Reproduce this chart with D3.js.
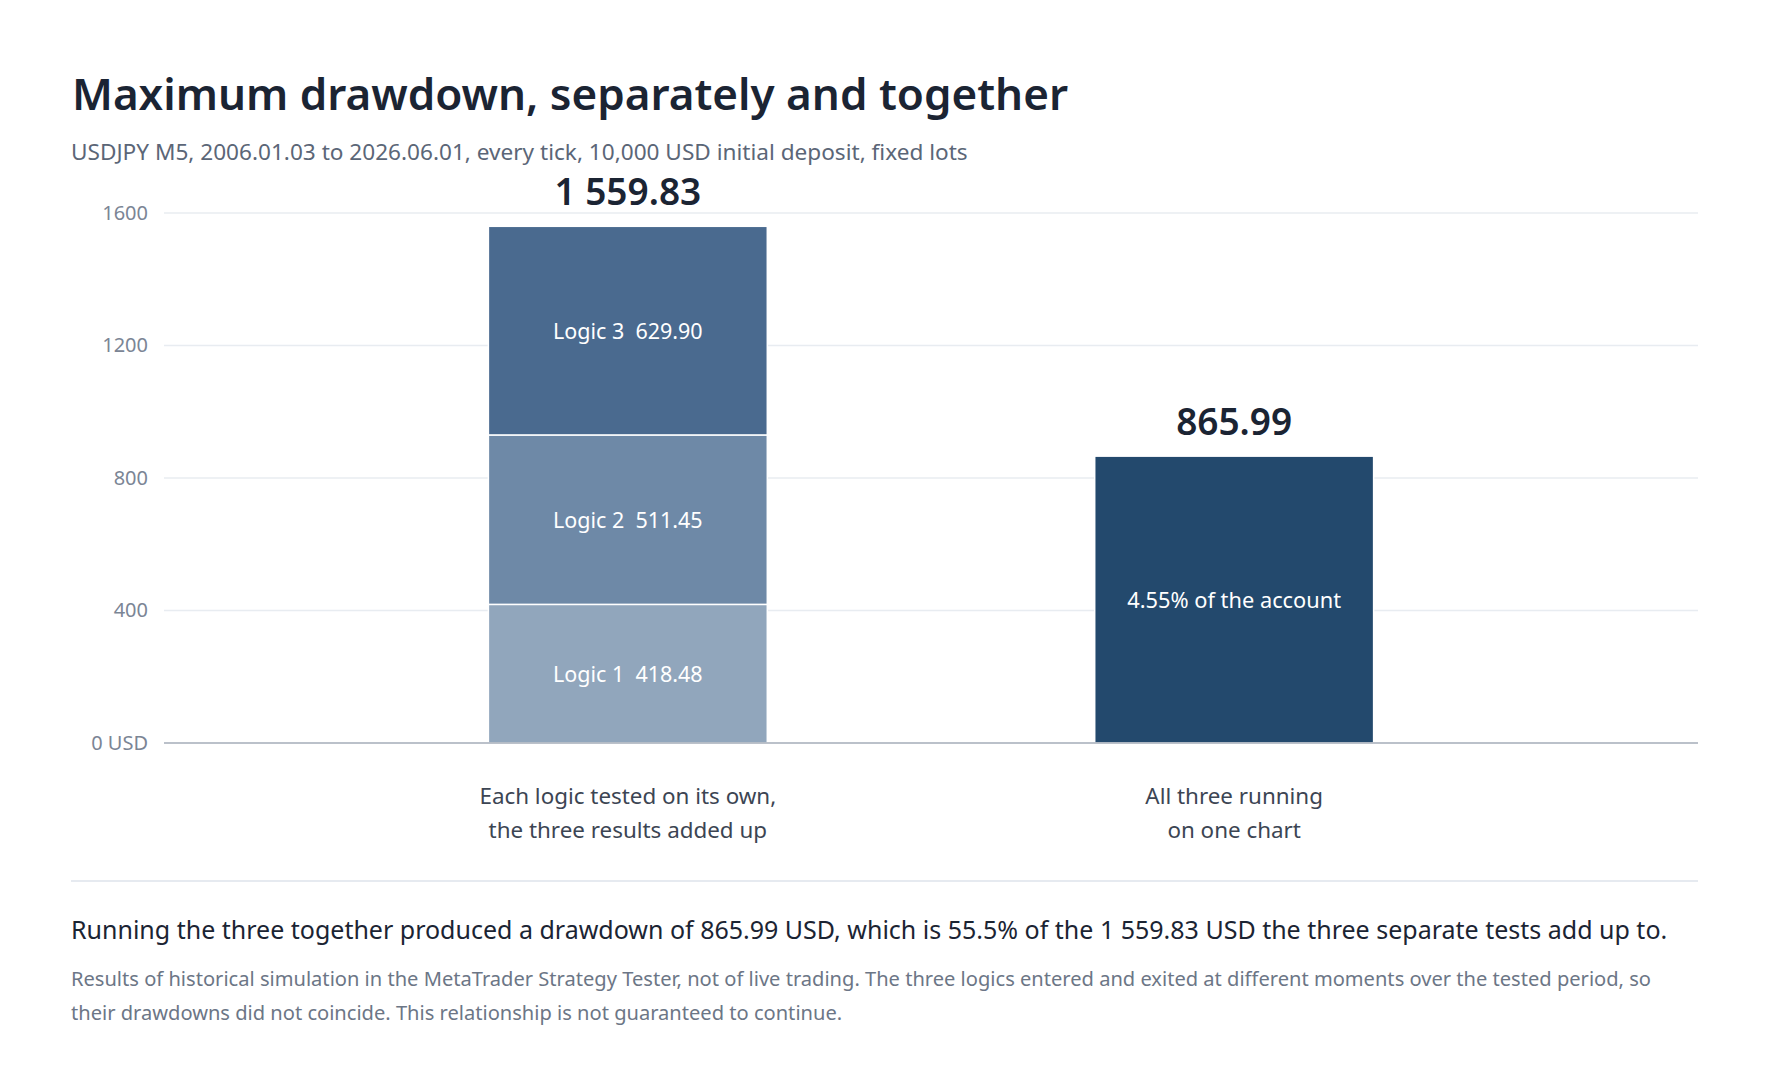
<!DOCTYPE html>
<html>
<head>
<meta charset="utf-8">
<script src="https://cdn.jsdelivr.net/npm/d3@7"></script>
<style>
  html, body { margin: 0; padding: 0; background: #ffffff; }
  svg { display: block; font-family: "Noto Sans", "Open Sans", sans-serif; }
</style>
</head>
<body>
<div id="chart"></div>
<script>
// Maximum drawdown: the three logics tested separately vs. together
const categories = ["separate", "together"];
const categoryLabels = [
  ["Each logic tested on its own,", "the three results added up"],
  ["All three running", "on one chart"]
];
const logicNames = ["Logic 1", "Logic 2", "Logic 3"];
const separateValues = [418.48, 511.45, 629.90];
const combinedValue = 865.99;
const combinedNote = "4.55% of the account";
const yTicks = [0, 400, 800, 1200, 1600];
const logicColors = ["#91a6bc", "#6e89a7", "#4a6a8f"];
const combinedColor = "#23496d";

const titleText = "Maximum drawdown, separately and together";
const subtitleText = "USDJPY M5, 2006.01.03 to 2026.06.01, every tick, 10,000 USD initial deposit, fixed lots";
const summaryText = "Running the three together produced a drawdown of 865.99 USD, which is 55.5% of the 1 559.83 USD the three separate tests add up to.";
const footnoteLines = [
  "Results of historical simulation in the MetaTrader Strategy Tester, not of live trading. The three logics entered and exited at different moments over the tested period, so",
  "their drawdowns did not coincide. This relationship is not guaranteed to continue."
];

const width = 1768, height = 1080;
const margin = { top: 213, right: 70, bottom: 337, left: 164 };

// number format with a space as thousands separator
const fmt = d3.formatLocale({ decimal: ".", thousands: " ", grouping: [3], currency: ["", ""] }).format(",.2f");

const svg = d3.select("#chart").append("svg")
  .attr("width", width)
  .attr("height", height);

// title and subtitle
svg.append("text")
  .attr("x", 72).attr("y", 110)
  .attr("font-size", 44).attr("font-weight", 600)
  .attr("fill", "#1b2433")
  .text(titleText);

svg.append("text")
  .attr("x", 71).attr("y", 160)
  .attr("font-size", 22.6)
  .attr("fill", "#5b6677")
  .text(subtitleText);

// scales
const x = d3.scaleBand()
  .domain(categories)
  .range([margin.left, width - margin.right])
  .paddingInner(0.54)
  .paddingOuter(0.535);

const y = d3.scaleLinear()
  .domain([0, 1600])
  .range([height - margin.bottom, margin.top]);

// gridlines
svg.append("g")
  .selectAll("line")
  .data(yTicks.filter(d => d > 0))
  .join("line")
    .attr("x1", margin.left).attr("x2", width - margin.right)
    .attr("y1", d => y(d)).attr("y2", d => y(d))
    .attr("stroke", "#e8ecf1").attr("stroke-width", 1.5);

// y axis labels
const yAxis = svg.append("g")
  .attr("transform", `translate(${margin.left},0)`)
  .call(d3.axisLeft(y).tickValues(yTicks).tickSize(0).tickPadding(16)
    .tickFormat(d => d === 0 ? "0 USD" : d));
yAxis.select(".domain").remove();
yAxis.selectAll("text")
  .attr("font-family", "Noto Sans, Open Sans, sans-serif")
  .attr("font-size", 20)
  .attr("fill", "#7b8595");

// stacked bar for separate tests
const row = { cat: "separate" };
logicNames.forEach((n, i) => row[n] = separateValues[i]);
const series = d3.stack().keys(logicNames)([row]);

const stackG = svg.append("g");
series.forEach((s, i) => {
  const d = s[0];
  stackG.append("rect")
    .attr("x", x("separate"))
    .attr("width", x.bandwidth())
    .attr("y", y(d[1]))
    .attr("height", y(d[0]) - y(d[1]))
    .attr("fill", logicColors[i])
    .attr("stroke", "#ffffff").attr("stroke-width", 1.5);
  stackG.append("text")
    .attr("x", x("separate") + x.bandwidth() / 2)
    .attr("y", (y(d[0]) + y(d[1])) / 2)
    .attr("dy", "0.38em")
    .attr("text-anchor", "middle")
    .attr("font-size", 21.5)
    .attr("fill", "#ffffff")
    .attr("xml:space", "preserve")
    .text(`${logicNames[i]}  ${fmt(separateValues[i])}`);
});

// combined bar
svg.append("rect")
  .attr("x", x("together"))
  .attr("width", x.bandwidth())
  .attr("y", y(combinedValue))
  .attr("height", y(0) - y(combinedValue))
  .attr("fill", combinedColor)
  .attr("stroke", "#ffffff").attr("stroke-width", 1.5);

svg.append("text")
  .attr("x", x("together") + x.bandwidth() / 2)
  .attr("y", (y(0) + y(combinedValue)) / 2)
  .attr("dy", "0.38em")
  .attr("text-anchor", "middle")
  .attr("font-size", 21.8)
  .attr("fill", "#ffffff")
  .text(combinedNote);

// totals above bars
const totals = [d3.sum(separateValues), combinedValue];
svg.append("g")
  .selectAll("text")
  .data(categories)
  .join("text")
    .attr("x", d => x(d) + x.bandwidth() / 2)
    .attr("y", (d, i) => y(totals[i]) - 21)
    .attr("text-anchor", "middle")
    .attr("font-size", 37).attr("font-weight", 600)
    .attr("fill", "#1b2433")
    .text((d, i) => fmt(totals[i]));

// baseline
svg.append("line")
  .attr("x1", margin.left).attr("x2", width - margin.right)
  .attr("y1", y(0)).attr("y2", y(0))
  .attr("stroke", "#a4acb8").attr("stroke-width", 1.5);

// category labels
svg.append("g")
  .selectAll("text")
  .data(categories)
  .join("text")
    .attr("text-anchor", "middle")
    .attr("font-size", 22.4)
    .attr("fill", "#3c4553")
    .each(function(d, i) {
      d3.select(this).selectAll("tspan")
        .data(categoryLabels[i])
        .join("tspan")
          .attr("x", x(d) + x.bandwidth() / 2)
          .attr("y", (t, j) => y(0) + 61 + j * 34)
          .text(t => t);
    });

// separator
svg.append("line")
  .attr("x1", 71).attr("x2", width - margin.right)
  .attr("y1", 881).attr("y2", 881)
  .attr("stroke", "#e6eaf0").attr("stroke-width", 2);

// summary and footnote
svg.append("text")
  .attr("x", 71).attr("y", 939)
  .attr("font-size", 25)
  .attr("fill", "#1b2433")
  .text(summaryText);

svg.append("text")
  .attr("font-size", 20.1)
  .attr("fill", "#6c7686")
  .selectAll("tspan")
  .data(footnoteLines)
  .join("tspan")
    .attr("x", 71)
    .attr("y", (d, i) => 986 + i * 34)
    .text(d => d);
</script>
</body>
</html>
